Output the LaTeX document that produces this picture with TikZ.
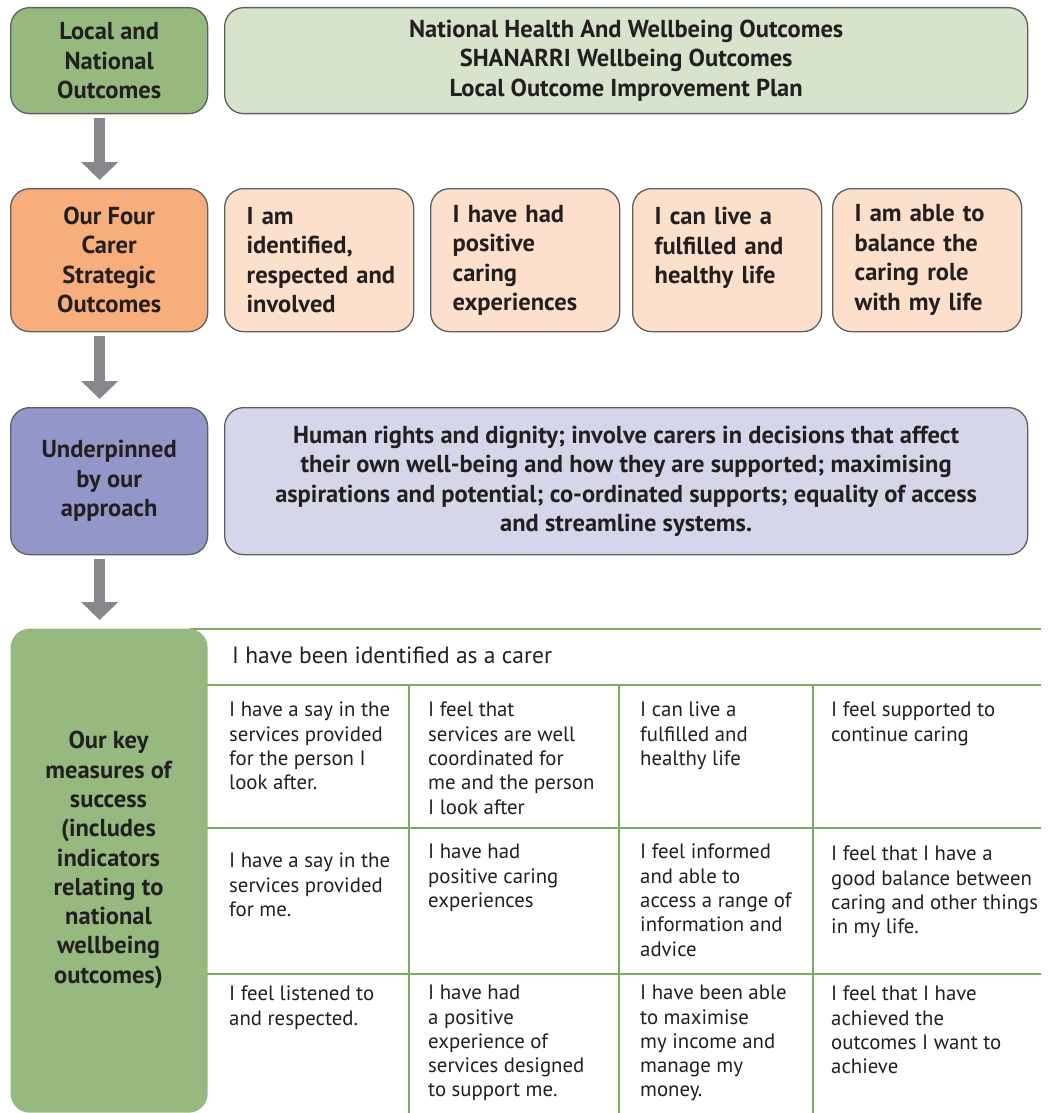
\documentclass[tikz,border=0pt]{standalone}
\usepackage{fontspec}
\setmainfont{PT Sans}
\usepackage{color}
\usetikzlibrary{arrows.meta}
\definecolor{outgreen}{RGB}{150,185,128}
\definecolor{outgreenlt}{RGB}{215,227,203}
\definecolor{carerorange}{RGB}{247,173,124}
\definecolor{carerpeach}{RGB}{253,224,203}
\definecolor{apppurple}{RGB}{147,150,200}
\definecolor{applilac}{RGB}{213,214,234}
\definecolor{arrowgray}{RGB}{135,136,140}
\definecolor{gridgreen}{RGB}{122,170,95}
\definecolor{ink}{RGB}{35,31,32}
\definecolor{edgegray}{RGB}{95,95,95}

\begin{document}
\begin{tikzpicture}[x=1pt,y=-1pt,every node/.style={inner sep=0pt,text=ink},
box/.style={draw=edgegray,line width=1.3pt,rounded corners=19pt,anchor=north west},
headbox/.style={box,minimum width=197pt,align=center,font=\fontsize{24.5}{29.5}\selectfont\bfseries},
widebox/.style={box,minimum width=803pt,align=center,font=\fontsize{24.5}{29.5}\selectfont\bfseries},
goalbox/.style={box,fill=carerpeach,minimum width=189pt,minimum height=143pt,text width=145pt,align=left,font=\fontsize{24.5}{29.5}\selectfont\bfseries},
cell/.style={anchor=north west,align=left,font=\fontsize{20.8}{24.3}\selectfont},
downarrow/.style={arrowgray,line width=11pt,shorten <=4pt,shorten >=8pt,-{Triangle[width=36pt,length=18pt]}},
gridline/.style={gridgreen,line width=2pt}]
\useasboundingbox (0,0) rectangle (1054,1113);

\node [headbox,fill=outgreen,minimum height=106pt] (lno) at (10,7) {Local and\\National\\Outcomes};
\node [widebox,fill=outgreenlt,minimum height=106pt] (natout) at (224,7) {National Health And Wellbeing Outcomes\\SHANARRI Wellbeing Outcomes\\Local Outcome Improvement Plan};

\node [headbox,fill=carerorange,minimum height=143pt] (cso) at (10,188) {Our Four\\Carer\\Strategic\\Outcomes};
\node [goalbox] (goal1) at (224,188) {I am\\identified,\\\mbox{respected and}\\involved};
\node [goalbox] (goal2) at (430,188) {I have had\\positive\\caring\\experiences};
\node [goalbox] (goal3) at (632,188) {I can live a\\fulfilled and\\healthy life\\\mbox{}};
\node [goalbox] (goal4) at (832,188) {I am able to\\balance the\\caring role\\with my life};

\node [headbox,fill=apppurple,minimum height=147pt] (ubo) at (10,407) {Underpinned\\by our\\approach};
\node [widebox,fill=applilac,minimum height=147pt] (approach) at (224,407) {Human rights and dignity; involve carers in decisions that affect\\their own well-being and how they are supported; maximising\\aspirations and potential; co-ordinated supports; equality of access\\and streamline systems.};

\draw [downarrow] ([xshift=-9.5pt]lno.south) -- ([xshift=-9.5pt]cso.north);
\draw [downarrow] ([xshift=-9.5pt]cso.south) -- ([xshift=-9.5pt]ubo.north);

\foreach \y in {629,685,828,974}
  \draw [gridline] (190,\y) -- (1041,\y);
\foreach \x in {409,619,813}
  \draw [gridline] (\x,685) -- (\x,1113);

\node [box,fill=outgreen,draw=none,minimum width=197pt,minimum height=484pt] (kms) at (10,628) {};
\node [align=center,font=\fontsize{24.5}{29.3}\selectfont\bfseries] (kmstext) at (108.5,860) {Our key\\measures of\\success\\(includes\\indicators\\relating to\\national\\wellbeing\\outcomes)};
\draw [downarrow] ([xshift=-9.5pt]ubo.south) -- ([xshift=-9.5pt]kms.north);

\node [cell,font=\fontsize{23.5}{24.3}\selectfont] (carer) at (232,647) {I have been identified as a carer};

\node [cell] (m21) at (229,702) {I have a say in the\\services provided\\for the person I\\look after.};
\node [cell] (m22) at (428,702) {I feel that\\services are well\\coordinated for\\me and the person\\I look after};
\node [cell] (m23) at (640,702) {I can live a\\fulfilled and\\healthy life};
\node [cell] (m24) at (831,702) {I feel supported to\\continue caring};

\node [cell] (m31) at (229,853) {I have a say in the\\services provided\\for me.};
\node [cell] (m32) at (428,844) {I have had\\positive caring\\experiences};
\node [cell] (m33) at (640,844) {I feel informed\\and able to\\access a range of\\information and\\advice};
\node [cell] (m34) at (831,846) {I feel that I have a\\good balance between\\caring and other things\\in my life.};

\node [cell] (m41) at (229,986) {I feel listened to\\and respected.};
\node [cell] (m42) at (428,985) {I have had\\a positive\\experience of\\services designed\\to support me.};
\node [cell] (m43) at (640,985) {I have been able\\to maximise\\my income and\\manage my\\money.};
\node [cell] (m44) at (831,986) {I feel that I have\\achieved the\\outcomes I want to\\achieve};
\end{tikzpicture}
\end{document}
